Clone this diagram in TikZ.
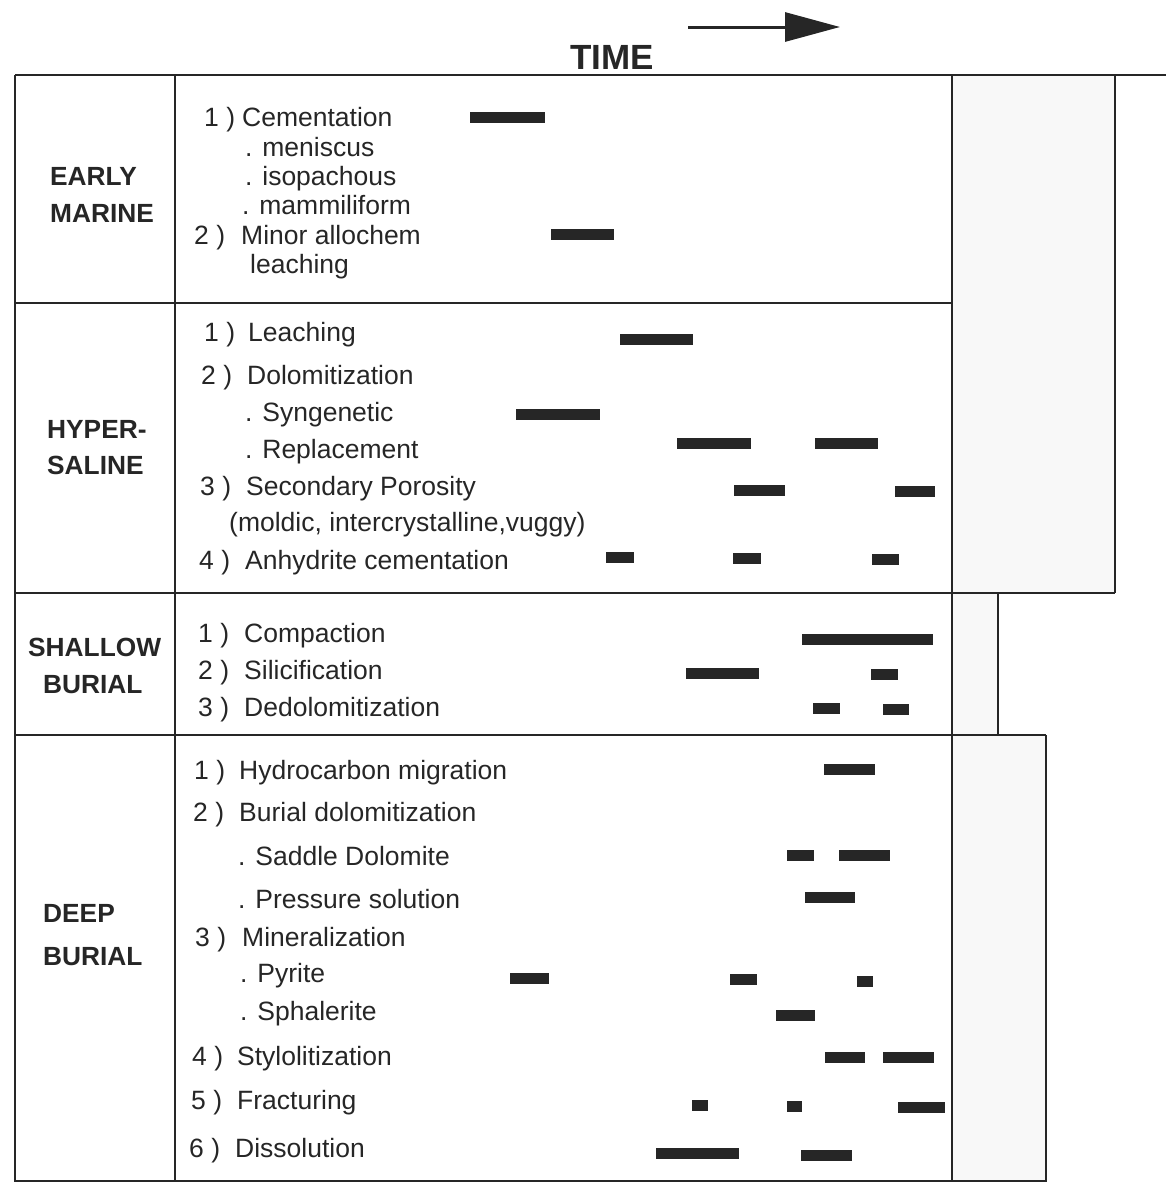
\documentclass[tikz,border=0pt]{standalone}
\usepackage{fontspec}
\setmainfont{Liberation Sans}
\usetikzlibrary{arrows.meta}
\definecolor{ink}{HTML}{262626}
\definecolor{shade}{HTML}{F8F8F8}

\begin{document}
\begin{tikzpicture}[x=1pt,y=-1pt,
    phase/.style={font=\bfseries\fontsize{26.3}{30}\selectfont,text=ink,anchor=west,inner sep=0pt,text height=19pt,text depth=0pt},
    item/.style={font=\fontsize{26.5}{30}\selectfont,text=ink,anchor=west,inner sep=0pt,text height=19pt,text depth=0pt},
    frame/.style={draw=ink,line width=2.6pt},
    bar/.style={fill=ink},
    column/.style={fill=shade}]
    \useasboundingbox (0,0) rectangle (1166,1183);
    % title
    \node[font=\bfseries\fontsize{35}{40}\selectfont,text=ink,inner sep=0pt,text height=24pt,text depth=0pt] (time) at (612,57) {TIME};
    \coordinate (t0) at (688,27);
    \coordinate (t1) at (840,27);
    \draw[ink,line width=3pt,-{Triangle[length=55pt,width=29pt]}] (t0) -- (t1);
    % shaded columns
    \fill[column] (952,75) rectangle (1115,593);
    \fill[column] (952,593) rectangle (998,735);
    \fill[column] (952,735) rectangle (1046,1181);
    % frame
    \draw[frame] (15,75) -- (1166,75);
    \draw[frame] (15,75) -- (15,1181) -- (1046,1181) -- (1046,735);
    \draw[frame] (175,75) -- (175,1181);
    \draw[frame] (952,75) -- (952,1181);
    \draw[frame] (1115,75) -- (1115,593);
    \draw[frame] (998,593) -- (998,735);
    \draw[frame] (15,303) -- (952,303);
    \draw[frame] (15,593) -- (1115,593);
    \draw[frame] (15,735) -- (1046,735);

    % early marine
    \node[phase] (em-a) at (50,176) {EARLY};
    \node[phase] (em-b) at (50,213) {MARINE};
    \node[item] (em-n1) at (204,117) {1 )};
    \node[item] (em-1) at (242,117) {Cementation};
    \node[item] (em-1a) at (245,147) {. meniscus};
    \node[item] (em-1b) at (245,176) {. isopachous};
    \node[item] (em-1c) at (242,205) {. mammiliform};
    \node[item] (em-n2) at (194,235) {2 )};
    \node[item] (em-2) at (241,235) {Minor allochem};
    \node[item] (em-2a) at (250,264) {leaching};
    \fill[bar] (470,112) rectangle (545,123);
    \fill[bar] (551,229) rectangle (614,240);

    % hypersaline
    \node[phase] (hs-a) at (47,429) {HYPER-};
    \node[phase] (hs-b) at (47,465) {SALINE};
    \node[item] (hs-n1) at (204,332) {1 )};
    \node[item] (hs-1) at (248,332) {Leaching};
    \node[item] (hs-n2) at (201,375) {2 )};
    \node[item] (hs-2) at (247,375) {Dolomitization};
    \node[item] (hs-2a) at (245,412) {. Syngenetic};
    \node[item] (hs-2b) at (245,449) {. Replacement};
    \node[item] (hs-n3) at (200,486) {3 )};
    \node[item] (hs-3) at (246,486) {Secondary Porosity};
    \node[item] (hs-3a) at (229,522) {(moldic, intercrystalline,vuggy)};
    \node[item] (hs-n4) at (199,560) {4 )};
    \node[item] (hs-4) at (245,560) {Anhydrite cementation};
    \fill[bar] (620,334) rectangle (693,345);
    \fill[bar] (516,409) rectangle (600,420);
    \fill[bar] (677,438) rectangle (751,449);
    \fill[bar] (815,438) rectangle (878,449);
    \fill[bar] (734,485) rectangle (785,496);
    \fill[bar] (895,486) rectangle (935,497);
    \fill[bar] (606,552) rectangle (634,563);
    \fill[bar] (733,553) rectangle (761,564);
    \fill[bar] (872,554) rectangle (899,565);

    % shallow burial
    \node[phase] (sb-a) at (28,647) {SHALLOW};
    \node[phase] (sb-b) at (43,684) {BURIAL};
    \node[item] (sb-n1) at (198,633) {1 )};
    \node[item] (sb-1) at (244,633) {Compaction};
    \node[item] (sb-n2) at (198,670) {2 )};
    \node[item] (sb-2) at (244,670) {Silicification};
    \node[item] (sb-n3) at (198,707) {3 )};
    \node[item] (sb-3) at (244,707) {Dedolomitization};
    \fill[bar] (802,634) rectangle (933,645);
    \fill[bar] (686,668) rectangle (759,679);
    \fill[bar] (871,669) rectangle (898,680);
    \fill[bar] (813,703) rectangle (840,714);
    \fill[bar] (883,704) rectangle (909,715);

    % deep burial
    \node[phase] (db-a) at (43,913) {DEEP};
    \node[phase] (db-b) at (43,956) {BURIAL};
    \node[item] (db-n1) at (194,770) {1 )};
    \node[item] (db-1) at (239,770) {Hydrocarbon migration};
    \node[item] (db-n2) at (193,812) {2 )};
    \node[item] (db-2) at (239,812) {Burial dolomitization};
    \node[item] (db-2a) at (238,856) {. Saddle Dolomite};
    \node[item] (db-2b) at (238,899) {. Pressure solution};
    \node[item] (db-n3) at (195,937) {3 )};
    \node[item] (db-3) at (242,937) {Mineralization};
    \node[item] (db-3a) at (240,973) {. Pyrite};
    \node[item] (db-3b) at (240,1011) {. Sphalerite};
    \node[item] (db-n4) at (192,1056) {4 )};
    \node[item] (db-4) at (237,1056) {Stylolitization};
    \node[item] (db-n5) at (191,1100) {5 )};
    \node[item] (db-5) at (237,1100) {Fracturing};
    \node[item] (db-n6) at (189,1148) {6 )};
    \node[item] (db-6) at (235,1148) {Dissolution};
    \fill[bar] (824,764) rectangle (875,775);
    \fill[bar] (787,850) rectangle (814,861);
    \fill[bar] (839,850) rectangle (890,861);
    \fill[bar] (805,892) rectangle (855,903);
    \fill[bar] (510,973) rectangle (549,984);
    \fill[bar] (730,974) rectangle (757,985);
    \fill[bar] (857,976) rectangle (873,987);
    \fill[bar] (776,1010) rectangle (815,1021);
    \fill[bar] (825,1052) rectangle (865,1063);
    \fill[bar] (883,1052) rectangle (934,1063);
    \fill[bar] (692,1100) rectangle (708,1111);
    \fill[bar] (787,1101) rectangle (802,1112);
    \fill[bar] (898,1102) rectangle (945,1113);
    \fill[bar] (656,1148) rectangle (739,1159);
    \fill[bar] (801,1150) rectangle (852,1161);
\end{tikzpicture}
\end{document}
